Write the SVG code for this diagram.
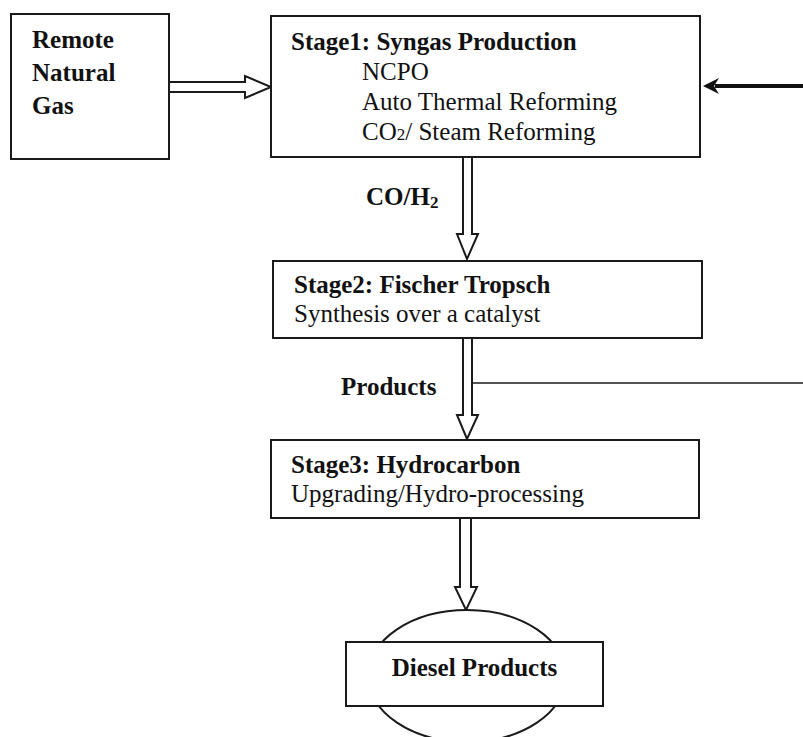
<svg xmlns="http://www.w3.org/2000/svg" width="803" height="737" viewBox="0 0 803 737">
<style>
.box{fill:#fff;stroke:#1a1a1a;stroke-width:2}
.harrow{fill:#fff;stroke:#1a1a1a;stroke-width:2;stroke-linejoin:miter}
.t{font-family:"Liberation Serif","Times New Roman",serif;font-size:25px;fill:#111}
.b{font-weight:bold}
</style>
<rect width="803" height="737" fill="#fff"/>
<g id="connectors">
<polygon class="harrow" points="169,82 245,82 245,76 271,87 245,98 245,92 169,92"/>
<polygon class="harrow" points="463,157 472,157 472,234 478,234 467,259 457,234 463,234"/>
<polygon class="harrow" points="463,338 472,338 472,415 478,415 467,439 457,415 463,415"/>
<polygon class="harrow" points="460,518 471,518 471,587 477,587 466,610 455,587 460,587"/>
<line x1="472" y1="383" x2="803" y2="383" stroke="#1a1a1a" stroke-width="1.6"/>
<line x1="715" y1="86" x2="803" y2="86" stroke="#111" stroke-width="4"/>
<polygon points="703,86 719,78 714,86 719,94" fill="#111"/>
<text class="t b" x="366" y="205">CO/H<tspan font-size="17" dy="3">2</tspan></text>
<text class="t b" x="341" y="395">Products</text>
</g>
<g id="remote">
<rect class="box" x="11" y="14" width="158" height="145"/>
<text class="t b" x="32" y="48">Remote</text>
<text class="t b" x="32" y="81">Natural</text>
<text class="t b" x="32" y="114">Gas</text>
</g>
<g id="stage1">
<rect class="box" x="271" y="16" width="429" height="141"/>
<text class="t b" x="291" y="50">Stage1: Syngas Production</text>
<text class="t" x="362" y="80">NCPO</text>
<text class="t" x="362" y="110">Auto Thermal Reforming</text>
<text class="t" x="362" y="140">CO<tspan font-size="17">2</tspan>/ Steam Reforming</text>
</g>
<g id="stage2">
<rect class="box" x="273" y="261" width="429" height="77"/>
<text class="t b" x="294" y="293">Stage2: Fischer Tropsch</text>
<text class="t" x="294" y="322">Synthesis over a catalyst</text>
</g>
<g id="stage3">
<rect class="box" x="271" y="440" width="428" height="78"/>
<text class="t b" x="291" y="473">Stage3: Hydrocarbon</text>
<text class="t" x="291" y="502">Upgrading/Hydro-processing</text>
</g>
<g id="diesel">
<ellipse cx="467" cy="676" rx="99" ry="66" fill="#fff" stroke="#1a1a1a" stroke-width="2"/>
<rect class="box" x="346" y="642" width="257" height="64"/>
<text class="t b" x="474.5" y="676" text-anchor="middle">Diesel Products</text>
</g>
</svg>
